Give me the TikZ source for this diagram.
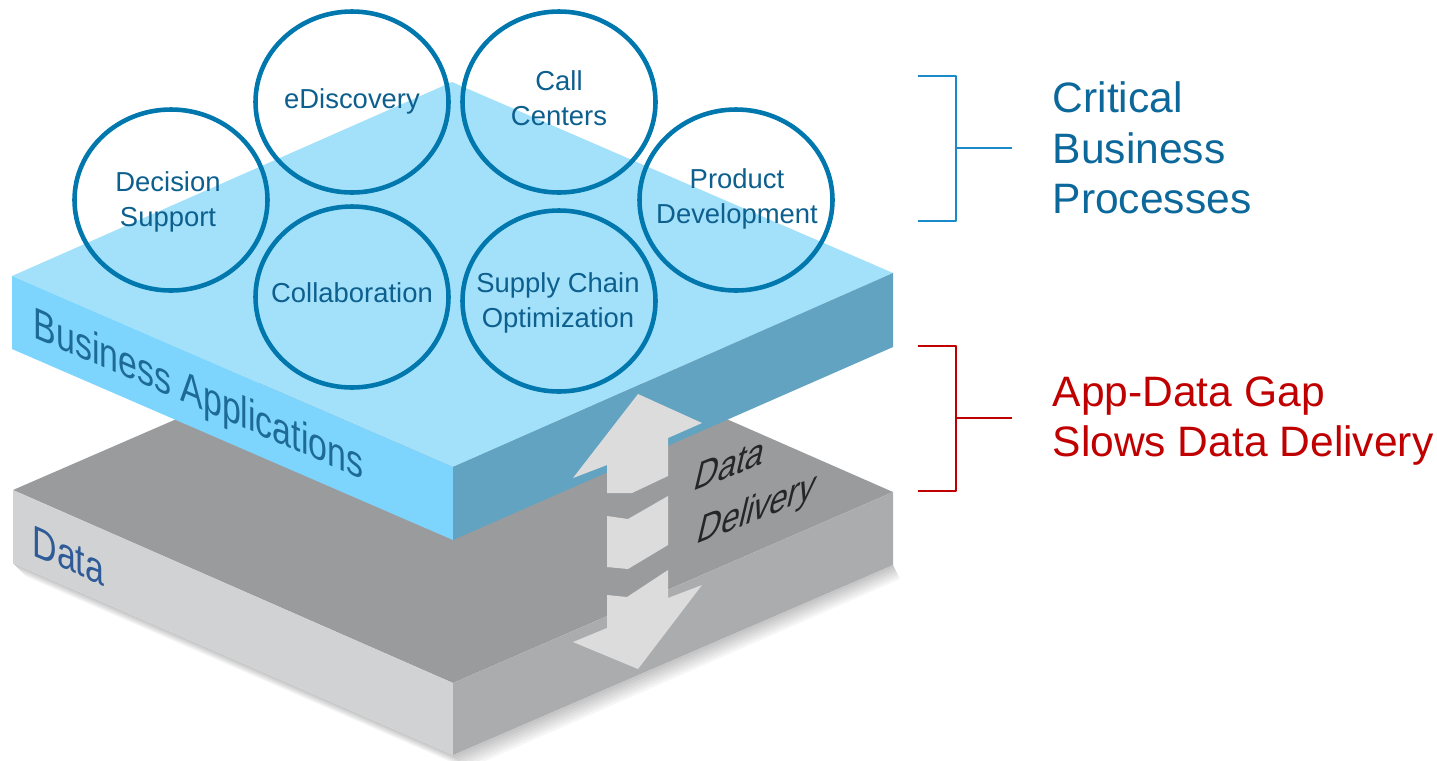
\documentclass[tikz,border=0pt]{standalone}
\usepackage{fontspec}
\setmainfont{Liberation Sans}
\definecolor{appTop}{HTML}{A3E1FB}
\definecolor{appLeft}{HTML}{7DD5FE}
\definecolor{appRight}{HTML}{62A3C1}
\definecolor{dataTop}{HTML}{9A9B9D}
\definecolor{dataLeft}{HTML}{D1D2D4}
\definecolor{dataRight}{HTML}{ABACAE}
\definecolor{flowGray}{HTML}{DCDCDC}
\definecolor{procLine}{HTML}{0077AD}
\definecolor{procText}{HTML}{0D5F8E}
\definecolor{appText}{HTML}{1D6A96}
\definecolor{dataText}{HTML}{2E5B97}
\definecolor{critLine}{HTML}{1A8BC8}
\definecolor{critText}{HTML}{0C689A}
\definecolor{gapRed}{HTML}{C00000}
\tikzset{
  proc/.style={inner sep=0pt, align=center, text=procText, font=\fontsize{7.8}{9.8}\selectfont},
  ring/.style={draw=procLine, line width=1.3pt},
  sidetext/.style={anchor=west, inner sep=0pt, align=left, font=\fontsize{12.1}{14.3}\selectfont},
  facetext/.style={anchor=base west, inner sep=0pt, transform shape, cm={0.918,-0.396,0,1.2,(0,0)},
    font=\fontsize{10.5}{12}\selectfont},
  flowtext/.style={anchor=base west, inner sep=0pt, transform shape, cm={0.93,0.37,0.28,1.18,(0,0)},
    text=black!85, font=\fontsize{9.9}{12}\selectfont},
}
\begin{document}
\begin{tikzpicture}[x=0.01cm, y=-0.01cm, line join=round, line cap=round]
 \useasboundingbox (0,0) rectangle (1437,760);
 % soft shadow under the data slab
 \foreach \d in {2,4,...,14}
   \fill[black, opacity=0.035] (13,563)--(453,755)--(893,565)--(893+0.5*\d,565+\d)--(453+\d,755+\d)--(13+\d,563+\d)--cycle;
 % data slab
 \fill[dataTop] (13,490)--(453,299)--(893,492)--(453,683)--cycle;
 \fill[dataLeft] (13,490)--(453,683)--(453,755)--(13,563)--cycle;
 \fill[dataRight] (453,683)--(893,492)--(893,565)--(453,755)--cycle;
 % business applications slab
 \fill[appTop] (12,276)--(452,82)--(893,273)--(453,467)--cycle;
 \fill[appLeft] (12,276)--(453,467)--(453,540)--(12,349)--cycle;
 \fill[appRight] (453,467)--(893,273)--(893,347)--(453,540)--cycle;
 % broken double arrow
 \fill[flowGray] (607,465)--(573,478)--(638,394)--(702,423)--(668,438)--(668,476)--(632,493)--(607,493)--cycle;
 \fill[flowGray] (607,516)--(628,519)--(668,496)--(668,545)--(628,569)--(607,567)--cycle;
 \fill[flowGray] (607,595)--(627,597)--(668,570)--(668,598)--(702,585)--(638,669)--(573,642)--(607,628)--cycle;
 % face labels
 \node[facetext, text=appText] (applbl) at (33,337) {Business Applications};
 \node[facetext, text=dataText] (datalbl) at (32,555) {Data};
 \node[flowtext] (flowA) at (692,492) {Data};
 \node[flowtext] (flowB) at (695,545) {Delivery};
 % processes
 \node[proc] (decision) at (168,202) {Decision\\Support};
 \node[proc] (ediscovery) at (352,101) {eDiscovery};
 \node[proc] (callcenters) at (559,98) {Call\\Centers};
 \node[proc] (product) at (737,199) {Product\\Development};
 \node[proc] (collab) at (352,293) {Collaboration};
 \node[proc] (supply) at (558,303) {Supply Chain\\Optimization};
 \foreach \cx/\cy in {171/200, 352/102, 559/102, 736/200, 352/297, 559/301}
   \draw[ring] (\cx,\cy) ellipse [x radius=96.5, y radius=90.5];
 % brackets
 \draw[critLine, line width=0.6pt, line cap=butt] (918,76)--(956,76)--(956,221)--(918,221) (956,148)--(1012,148);
 \draw[gapRed, line width=0.6pt, line cap=butt] (918,346)--(956,346)--(956,491)--(918,491) (956,418)--(1012,418);
 \node[sidetext, text=critText] (critical) at (1052,148) {Critical\\Business\\Processes};
 \node[sidetext, text=gapRed] (gap) at (1052,421) {App-Data Gap\\Slows Data Delivery};
\end{tikzpicture}
\end{document}
